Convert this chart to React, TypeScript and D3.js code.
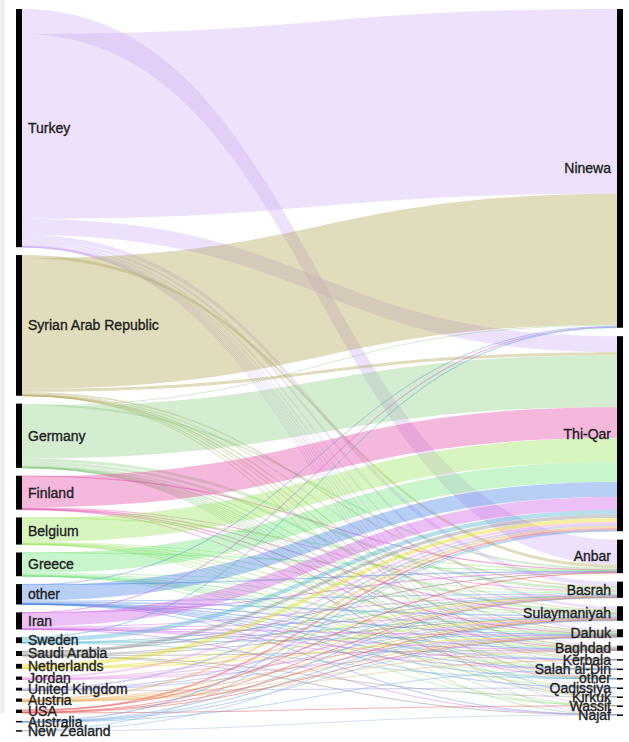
import * as d3 from "d3";

// source nodes (left) and their link colours
const countries = [
  "Turkey", "Syrian Arab Republic", "Germany", "Finland", "Belgium", "Greece",
  "other", "Iran", "Sweden", "Saudi Arabia", "Netherlands", "Jordan",
  "United Kingdom", "Austria", "USA", "Australia", "New Zealand",
];
const countryColors = [
  "#d2b4f5", "#b1a758", "#94d08a", "#e44ea8", "#9de661", "#75e67f",
  "#4d87e6", "#cf61e6", "#4db1cf", "#8a8a8a", "#e6d911", "#e68ee6",
  "#9a9ae6", "#e6a748", "#e64d4d", "#6aa0e0", "#8fb8e6",
];

// target nodes (right)
const governorates = [
  "Ninewa", "Thi-Qar", "Anbar", "Basrah", "Sulaymaniyah", "Dahuk", "Baghdad",
  "Kerbala", "Salah al-Din", "other", "Qadissiya", "Kirkuk", "Wassit", "Najaf",
];

// [country, governorate, value] - listed in the order they leave each country
const flows: [string, string, number][] = [
  ["Turkey", "Anbar", 25], ["Turkey", "Ninewa", 185], ["Turkey", "Thi-Qar", 16],
  ["Turkey", "Basrah", 4.5], ["Turkey", "Sulaymaniyah", 3], ["Turkey", "Dahuk", 2],
  ["Turkey", "Baghdad", 1.5], ["Turkey", "Kerbala", 0.3], ["Turkey", "Salah al-Din", 0.3],
  ["Turkey", "other", 0.3], ["Turkey", "Qadissiya", 0.1], ["Turkey", "Kirkuk", 0.2],
  ["Turkey", "Wassit", 0.1], ["Turkey", "Najaf", 0.1],
  ["Syrian Arab Republic", "Anbar", 3], ["Syrian Arab Republic", "Ninewa", 131],
  ["Syrian Arab Republic", "Thi-Qar", 3], ["Syrian Arab Republic", "Basrah", 1.5],
  ["Syrian Arab Republic", "Sulaymaniyah", 1], ["Syrian Arab Republic", "Dahuk", 0.5],
  ["Syrian Arab Republic", "Baghdad", 0.5], ["Syrian Arab Republic", "Kerbala", 0.1],
  ["Syrian Arab Republic", "other", 0.1], ["Syrian Arab Republic", "Kirkuk", 0.1],
  ["Germany", "Anbar", 2], ["Germany", "Ninewa", 1], ["Germany", "Thi-Qar", 52],
  ["Germany", "Basrah", 3], ["Germany", "Sulaymaniyah", 3], ["Germany", "Dahuk", 1.5],
  ["Germany", "Baghdad", 0.8], ["Germany", "Kerbala", 0.2], ["Germany", "Salah al-Din", 0.2],
  ["Germany", "other", 0.2], ["Germany", "Qadissiya", 0.1], ["Germany", "Kirkuk", 0.1],
  ["Germany", "Wassit", 0.1], ["Germany", "Najaf", 0.1],
  ["Finland", "Anbar", 0.5], ["Finland", "Thi-Qar", 31], ["Finland", "Basrah", 1],
  ["Finland", "Sulaymaniyah", 0.5], ["Finland", "Dahuk", 0.5], ["Finland", "Baghdad", 0.3],
  ["Finland", "other", 0.1],
  ["Belgium", "Anbar", 0.5], ["Belgium", "Thi-Qar", 24], ["Belgium", "Basrah", 1],
  ["Belgium", "Sulaymaniyah", 0.5], ["Belgium", "Dahuk", 0.5], ["Belgium", "Baghdad", 0.3],
  ["Belgium", "Salah al-Din", 0.1], ["Belgium", "Qadissiya", 0.1], ["Belgium", "Wassit", 0.1],
  ["Greece", "Anbar", 0.5], ["Greece", "Thi-Qar", 20], ["Greece", "Basrah", 1],
  ["Greece", "Sulaymaniyah", 1], ["Greece", "Dahuk", 0.5], ["Greece", "Baghdad", 0.4],
  ["Greece", "Kerbala", 0.1], ["Greece", "Salah al-Din", 0.1], ["Greece", "other", 0.1],
  ["Greece", "Wassit", 0.1],
  ["other", "Anbar", 0.5], ["other", "Ninewa", 1], ["other", "Thi-Qar", 15],
  ["other", "Basrah", 1], ["other", "Sulaymaniyah", 1.5], ["other", "Dahuk", 0.5],
  ["other", "Baghdad", 0.4], ["other", "Kerbala", 0.1], ["other", "Salah al-Din", 0.1],
  ["other", "other", 0.1], ["other", "Qadissiya", 0.1], ["other", "Najaf", 0.1],
  ["Iran", "Anbar", 0.5], ["Iran", "Ninewa", 0.5], ["Iran", "Thi-Qar", 13],
  ["Iran", "Basrah", 1], ["Iran", "Sulaymaniyah", 1], ["Iran", "Dahuk", 0.5],
  ["Iran", "Baghdad", 0.3], ["Iran", "Kerbala", 0.1], ["Iran", "Salah al-Din", 0.1],
  ["Iran", "Najaf", 0.1],
  ["Sweden", "Ninewa", 0.5], ["Sweden", "Thi-Qar", 4.5], ["Sweden", "Basrah", 0.3],
  ["Sweden", "Sulaymaniyah", 0.2], ["Sweden", "Dahuk", 0.2], ["Sweden", "other", 0.1],
  ["Saudi Arabia", "Anbar", 0.5], ["Saudi Arabia", "Thi-Qar", 3.5], ["Saudi Arabia", "Basrah", 0.3],
  ["Saudi Arabia", "Sulaymaniyah", 0.3], ["Saudi Arabia", "Baghdad", 0.2],
  ["Saudi Arabia", "Kirkuk", 0.1], ["Saudi Arabia", "Najaf", 0.1],
  ["Netherlands", "Thi-Qar", 4], ["Netherlands", "Basrah", 0.3],
  ["Netherlands", "Sulaymaniyah", 0.3], ["Netherlands", "Dahuk", 0.2],
  ["Jordan", "Thi-Qar", 2], ["Jordan", "Basrah", 0.3], ["Jordan", "Sulaymaniyah", 0.5],
  ["Jordan", "Dahuk", 0.3], ["Jordan", "Baghdad", 0.2],
  ["United Kingdom", "Thi-Qar", 2], ["United Kingdom", "Basrah", 0.3],
  ["United Kingdom", "Sulaymaniyah", 0.3], ["United Kingdom", "Dahuk", 0.2],
  ["United Kingdom", "Qadissiya", 0.1],
  ["Austria", "Thi-Qar", 2], ["Austria", "Basrah", 0.3], ["Austria", "Sulaymaniyah", 0.5],
  ["Austria", "Dahuk", 0.3], ["Austria", "Baghdad", 0.1], ["Austria", "Kerbala", 0.1],
  ["USA", "Anbar", 0.5], ["USA", "Thi-Qar", 2], ["USA", "Basrah", 0.2],
  ["USA", "Sulaymaniyah", 0.4], ["USA", "Dahuk", 0.2], ["USA", "Wassit", 0.1],
  ["Australia", "Thi-Qar", 0.7], ["Australia", "Basrah", 0.2], ["Australia", "Sulaymaniyah", 0.3],
  ["Australia", "Dahuk", 0.1], ["Australia", "Salah al-Din", 0.1],
  ["New Zealand", "Thi-Qar", 0.5], ["New Zealand", "Sulaymaniyah", 0.2],
  ["New Zealand", "Najaf", 0.1],
];

const width = 629;
const height = 742;
const top = 9;
const leftBottom = 731;
const rightBottom = 715;
const flowH = 596; // pixels taken by the node values in each column
const nodeW = 6;
const leftX = 16;
const rightX = 617;

type Node = { name: string; value: number; y0: number; y1: number };

function layout() {
  const src: Node[] = countries.map((name) => ({ name, value: 0, y0: 0, y1: 0 }));
  const tgt: Node[] = governorates.map((name) => ({ name, value: 0, y0: 0, y1: 0 }));
  const links = flows.map(([s, t, v], i) => {
    const si = countries.indexOf(s);
    const ti = governorates.indexOf(t);
    src[si].value += v;
    tgt[ti].value += v;
    return { i, si, ti, value: v, sy0: 0, sy1: 0, ty0: 0, ty1: 0 };
  });

  const total = d3.sum(src, (d) => d.value);
  const ky = d3.scaleLinear().domain([0, total]).range([0, flowH]);

  const place = (col: Node[], bottom: number) => {
    const pad = (bottom - top - flowH) / (col.length - 1);
    let y = top;
    col.forEach((n) => {
      n.y0 = y;
      n.y1 = y + ky(n.value);
      y = n.y1 + pad;
    });
  };
  place(src, leftBottom);
  place(tgt, rightBottom);

  // stack links at the source in data order
  src.forEach((n, si) => {
    let y = n.y0;
    links.filter((l) => l.si === si).forEach((l) => {
      l.sy0 = y;
      y += ky(l.value);
      l.sy1 = y;
    });
  });
  // stack links at the target by source order
  tgt.forEach((n, ti) => {
    let y = n.y0;
    links
      .filter((l) => l.ti === ti)
      .sort((a, b) => a.si - b.si || a.i - b.i)
      .forEach((l) => {
        l.ty0 = y;
        y += ky(l.value);
        l.ty1 = y;
      });
  });
  return { src, tgt, links };
}

function linkPath(l: { sy0: number; sy1: number; ty0: number; ty1: number }) {
  const x0 = leftX + nodeW;
  const x1 = rightX;
  const xm = d3.interpolateNumber(x0, x1)(0.5);
  const p = d3.path();
  p.moveTo(x0, l.sy0);
  p.bezierCurveTo(xm, l.sy0, xm, l.ty0, x1, l.ty0);
  p.lineTo(x1, l.ty1);
  p.bezierCurveTo(xm, l.ty1, xm, l.sy1, x0, l.sy1);
  p.closePath();
  return p.toString();
}

export default function App() {
  const { src, tgt, links } = layout();
  const font = "'Liberation Sans', Arial, sans-serif";

  return (
    <svg
      width={width}
      height={height}
      style={{ position: "absolute", left: 0, top: 0, background: "#fff" }}
    >
      <rect x={0} y={0} width={5} height={713} fill="#efefef" />
      <g>
        {links.map((l) => (
          <path
            key={l.i}
            d={linkPath(l)}
            fill={countryColors[l.si]}
            fillOpacity={0.4}
            stroke={l.value < 1 ? countryColors[l.si] : "none"}
            strokeOpacity={0.32}
            strokeWidth={0.7}
          />
        ))}
      </g>
      <g fill="#000">
        {src.map((n) => (
          <rect key={n.name} x={leftX} y={n.y0} width={nodeW} height={Math.max(n.y1 - n.y0, 1.5)} />
        ))}
        {tgt.map((n) => (
          <rect key={n.name} x={rightX} y={n.y0} width={nodeW} height={Math.max(n.y1 - n.y0, 1.5)} />
        ))}
      </g>
      <g fontFamily={font} fontSize={14} fill="#222" stroke="#222" strokeWidth={0.35}>
        {src.map((n) => (
          <text key={n.name} x={leftX + nodeW + 6} y={(n.y0 + n.y1) / 2} dy="0.35em">
            {n.name}
          </text>
        ))}
        {tgt.map((n) => (
          <text
            key={n.name}
            x={rightX - 6}
            y={(n.y0 + n.y1) / 2}
            dy="0.35em"
            textAnchor="end"
          >
            {n.name}
          </text>
        ))}
      </g>
    </svg>
  );
}
